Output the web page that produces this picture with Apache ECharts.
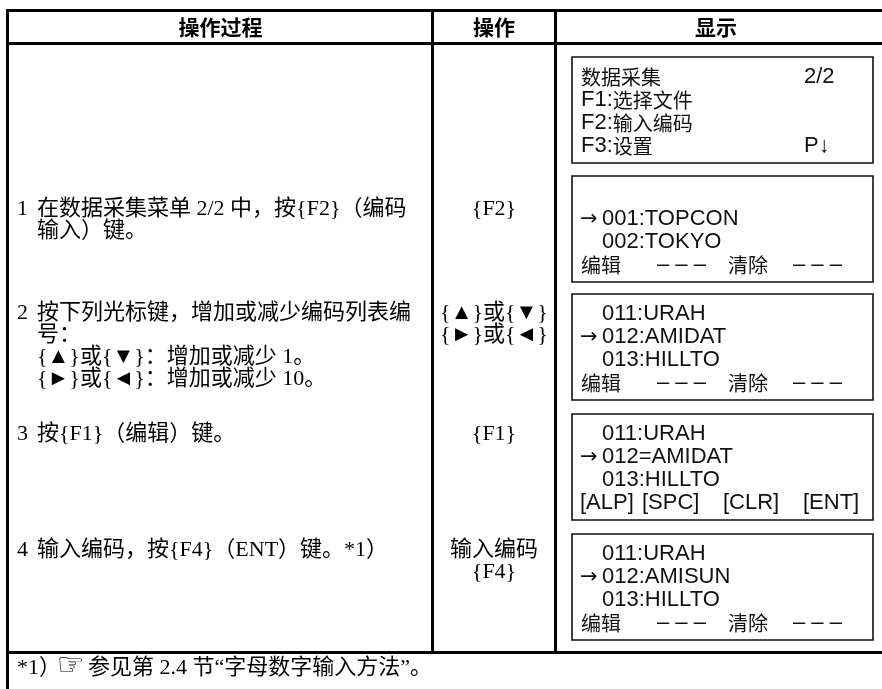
<!DOCTYPE html>
<html><head><meta charset="utf-8">
<script src="https://cdn.jsdelivr.net/npm/echarts@6/dist/echarts.min.js"></script>
<style>html,body{margin:0;padding:0;background:#fff}#c{width:882px;height:689px}</style>
</head><body><div id="c"></div>
<script>
// ---- content ----
const headers = ['操作过程', '操作', '显示'];
const stepNumbers = ['1', '2', '3', '4'];
const stepTexts = [
  ['在数据采集菜单 2/2 中，按{F2}（编码', '输入）键。'],
  ['按下列光标键，增加或减少编码列表编', '号：', '{▲}或{▼}：增加或减少 1。', '{►}或{◄}：增加或减少 10。'],
  ['按{F1}（编辑）键。'],
  ['输入编码，按{F4}（ENT）键。*1）']
];
const keyTexts = [['{F2}'], ['{▲}或{▼}', '{►}或{◄}'], ['{F1}'], ['输入编码', '{F4}']];
const screen1 = [['数据采集', '2/2'], ['F1:选择文件'], ['F2:输入编码'], ['F3:设置', 'P↓']];
const screen2 = [[''], ['→001:TOPCON'], ['  002:TOKYO'], ['编辑', '– – –', '清除', '– – –']];
const screen3 = [['  011:URAH'], ['→012:AMIDAT'], ['  013:HILLTO'], ['编辑', '– – –', '清除', '– – –']];
const screen4 = [['  011:URAH'], ['→012=AMIDAT'], ['  013:HILLTO'], ['[ALP]', '[SPC]', '[CLR]', '[ENT]']];
const screen5 = [['  011:URAH'], ['→012:AMISUN'], ['  013:HILLTO'], ['编辑', '– – –', '清除', '– – –']];
const screens = [screen1, screen2, screen3, screen4, screen5];
const footnoteParts = ['*1）', '☞', '参见第 2.4 节“字母数字输入方法”。'];

// ---- layout ----
const W = 882, H = 689;
const leftX = 6, col1 = 431, col2 = 554, lw = 3;
const topY = 9, headBottom = 42, footY = 651;
const stepY = [209, 313, 434, 550];
const lineGap = 22;
const boxX = 572, boxR = 873, boxH = 106;
const boxTops = [57, 176, 294, 414, 534];
const boxLineOff = [20, 43, 66, 89];
const serif = '"Liberation Serif", "Noto Sans CJK SC", "DejaVu Sans"';
const ink = '#000';

const g = [];
function rect(x, y, w, h, fill) { g.push({type: 'rect', shape: {x, y, width: w, height: h}, style: {fill: fill || ink}, silent: true}); }
function text(t, x, y, opt) {
  g.push({type: 'text', x, y, silent: true, style: Object.assign({text: t, fill: ink, font: '22px ' + serif, align: 'left', verticalAlign: 'middle'}, opt || {})});
}
// table rules
rect(leftX, topY, W - leftX, lw);
rect(leftX, headBottom, W - leftX, lw);
rect(leftX, footY, W - leftX, lw);
rect(leftX, topY, lw, H - topY);
rect(col1, topY, lw, footY - topY + lw);
rect(col2, topY, lw, footY - topY + lw);

// headers
const headCx = [(leftX + col1) / 2 + 2, (col1 + col2) / 2 + 1.5, (col2 + 882) / 2 - 2];
headers.forEach((h, i) => text(h, headCx[i], 27, {font: 'bold 21px "Noto Sans CJK SC"', align: 'center'}));

// step column
stepTexts.forEach((lines, i) => {
  text(stepNumbers[i], 17, stepY[i]);
  lines.forEach((l, j) => text(l, 37, stepY[i] + j * lineGap));
});
// key column
keyTexts.forEach((lines, i) => {
  lines.forEach((l, j) => text(l, (col1 + col2) / 2 + 1.5, stepY[i] + j * lineGap, {align: 'center'}));
});

// screens
const rich = {
  a: {fontFamily: '"Liberation Sans"', fontSize: 22, fill: '#111'},
  c: {fontFamily: '"Noto Sans CJK SC"', fontSize: 20, fill: '#111'}
};
function richify(s) {
  const runs = s.match(/[\u3000-\u9fff\uff00-\uffef]+|[^\u3000-\u9fff\uff00-\uffef]+/g) || [];
  return runs.map(r => (/[\u3000-\u9fff\uff00-\uffef]/.test(r) ? '{c|' : '{a|') + r + '}').join('');
}
function boxText(s, x, y) {
  g.push({type: 'text', x, y, silent: true, style: {text: richify(s), rich, verticalAlign: 'middle', align: 'left'}});
}
const softX1 = [581, 657, 728, 793];
const softX2 = [580, 642, 723, 803];
screens.forEach((scr, b) => {
  const top = boxTops[b];
  g.push({type: 'rect', shape: {x: boxX, y: top, width: boxR - boxX, height: boxH}, style: {fill: '#fff', stroke: '#111', lineWidth: 1.6}, silent: true});
  scr.forEach((parts, j) => {
    const y = top + boxLineOff[j];
    if (parts.length === 4) {
      const xs = parts[0].charAt(0) === '[' ? softX2 : softX1;
      parts.forEach((p, k) => boxText(p, xs[k], y));
      return;
    }
    let s = parts[0];
    if (s.charAt(0) === '→') {
      g.push({type: 'text', x: 580, y: y + 1, silent: true, style: {text: '→', font: '21px "DejaVu Sans"', fill: '#111', verticalAlign: 'middle'}});
      boxText(s.slice(1), 602, y);
    } else if (s.startsWith('  ')) {
      boxText(s.trim(), 602, y);
    } else if (s) {
      boxText(s, 581, y);
    }
    if (parts.length === 2) boxText(parts[1], 804, y);
  });
});

// footnote
text(footnoteParts[0], 17, 668);
text(footnoteParts[1], 57, 667, {font: '31px "DejaVu Sans"'});
text(footnoteParts[2], 88, 668);

const chart = echarts.init(document.getElementById('c'), null, {renderer: 'canvas'});
chart.setOption({backgroundColor: '#fff', animation: false, graphic: {elements: g}});
</script></body></html>
